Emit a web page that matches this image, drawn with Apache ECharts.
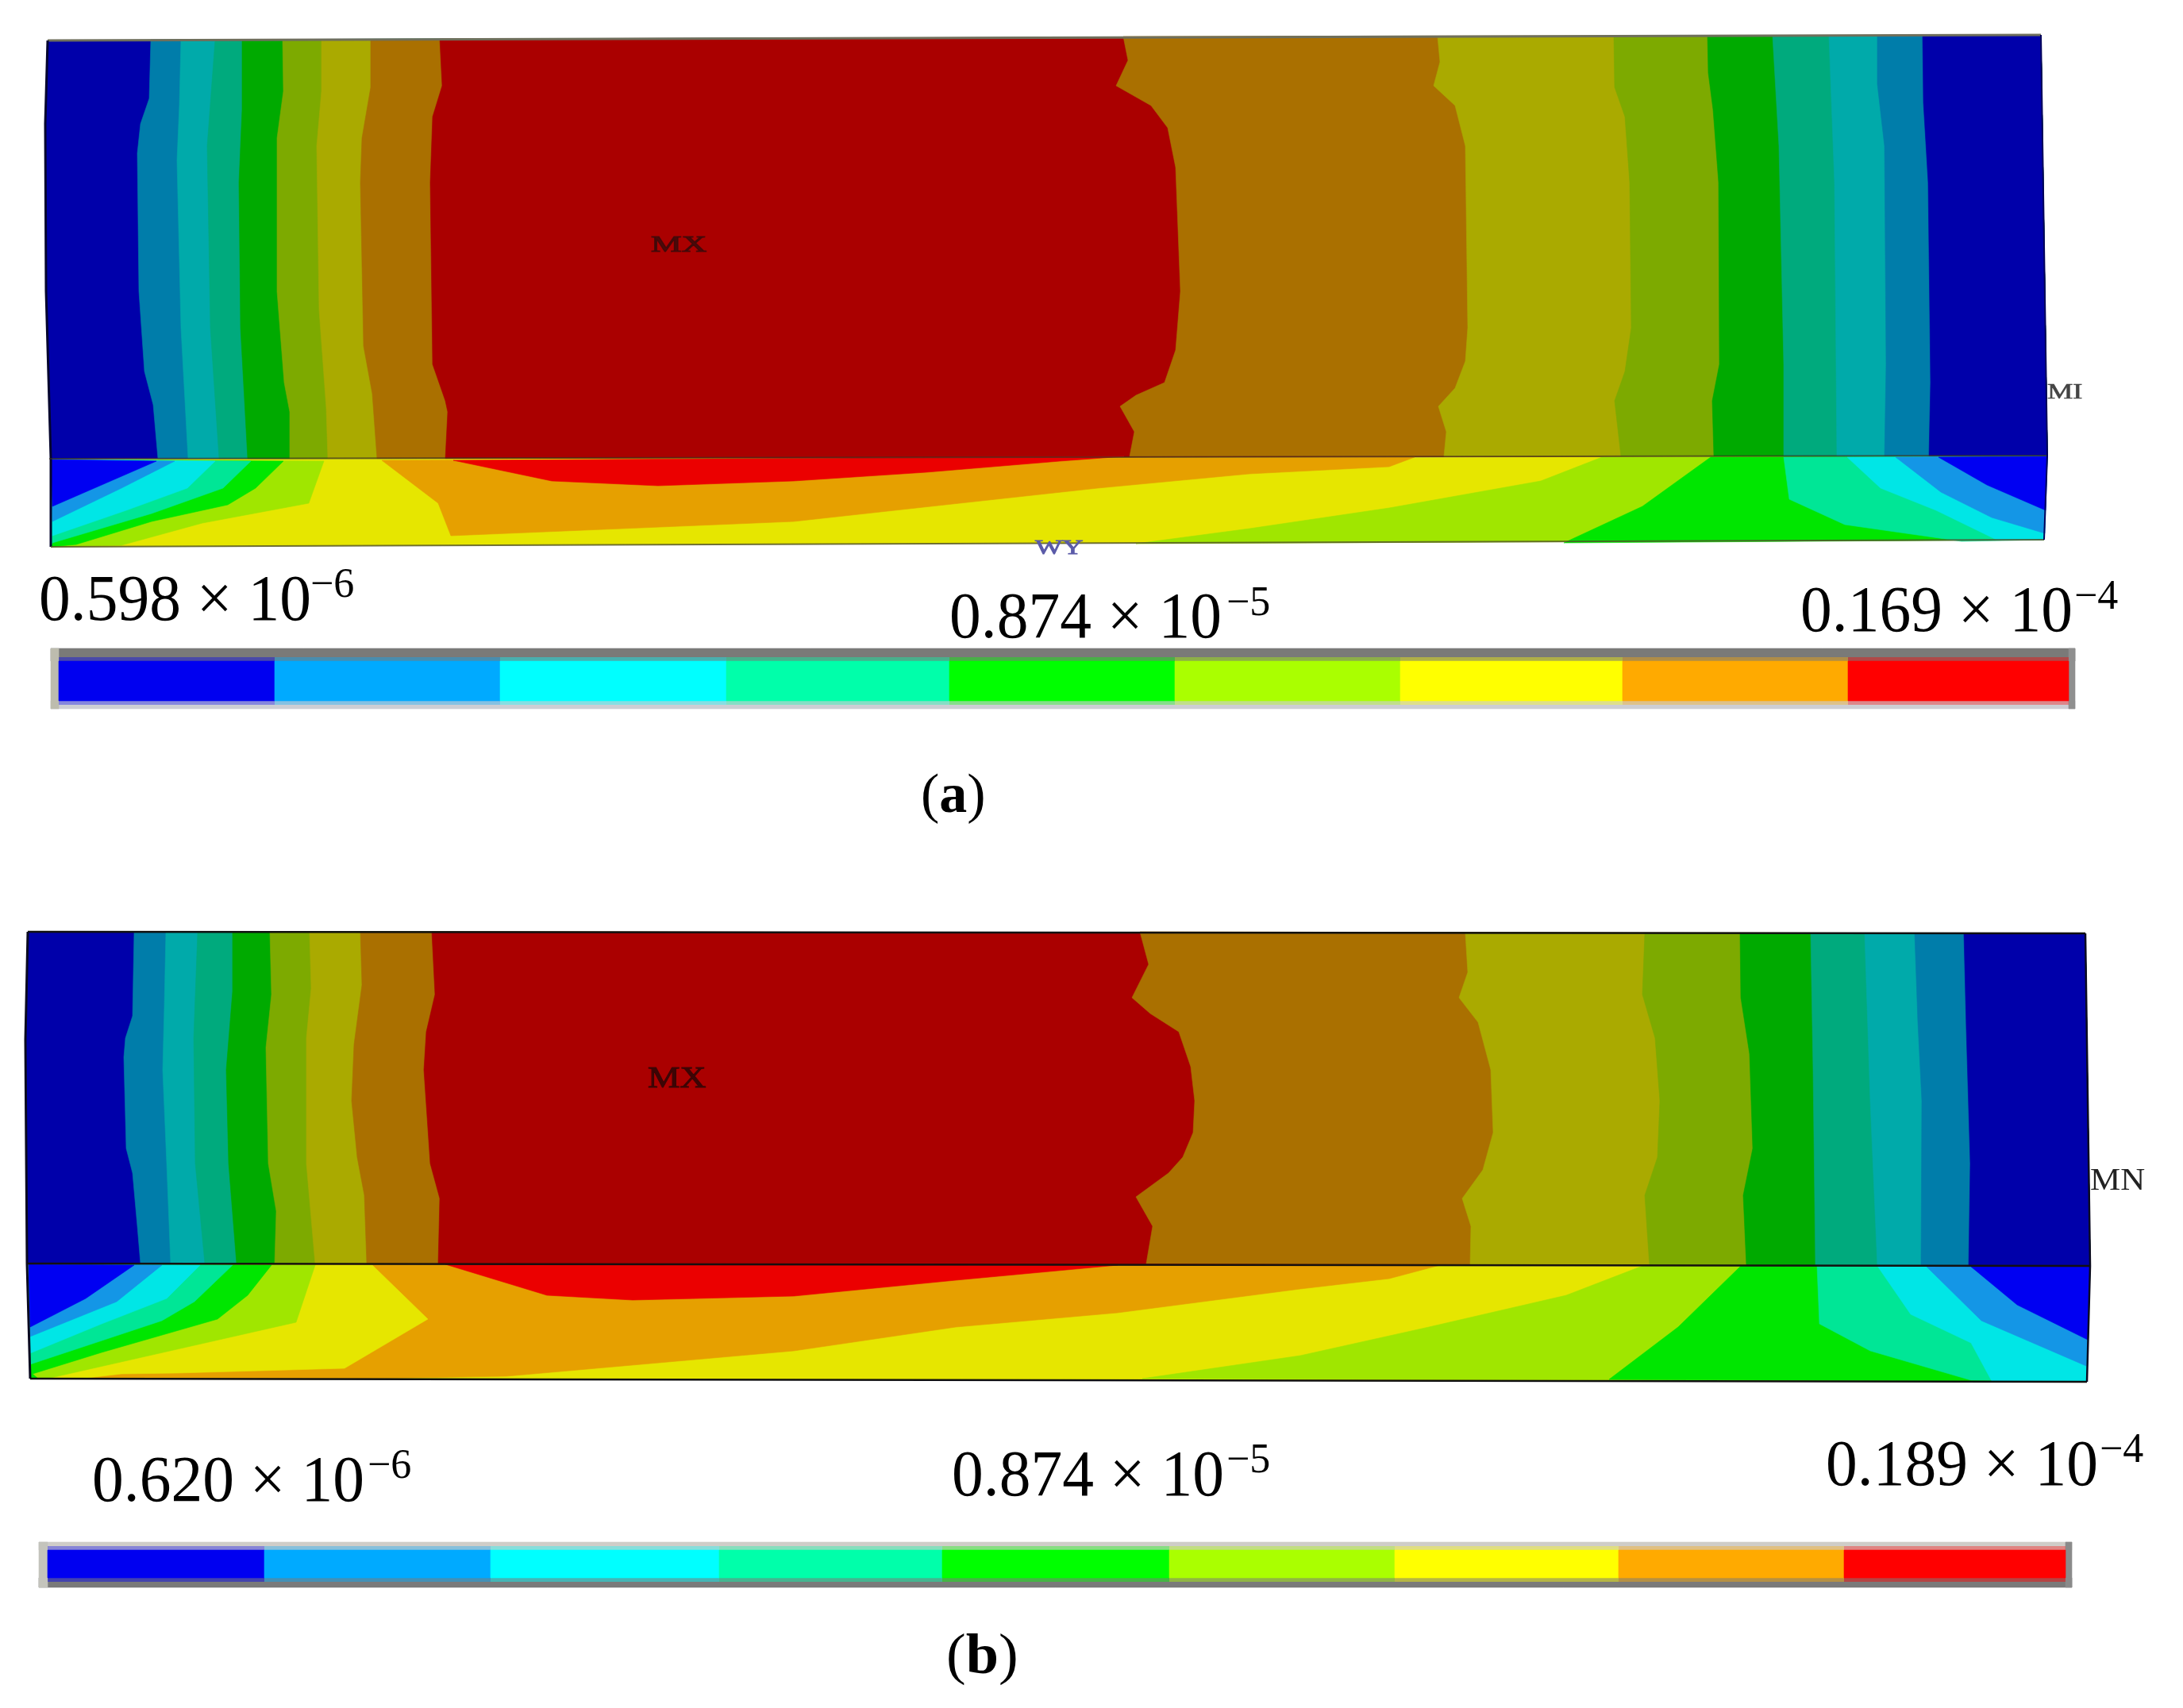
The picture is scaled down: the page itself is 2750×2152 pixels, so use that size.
<!DOCTYPE html>
<html><head><meta charset="utf-8">
<style>html,body{margin:0;padding:0;background:#fff}#c{width:2750px;height:2152px}</style>
<script src="https://cdn.jsdelivr.net/npm/echarts@6/dist/echarts.min.js"></script>
</head><body><div id="c"></div>
<script>
// ---- contour level colours (index = contour level 0..8)
const dimColors=['#0000AA','#007DAA','#00AAAA','#00AA7D','#00AA00','#7DAA00','#AAAA00','#AA7000','#AA0000'];
const brightColors=['#0000F2','#1496E6','#00E6E6','#00E696','#00E600','#A0E600','#E6E600','#E6A000','#EB0000'];
const legendColors=['#0000F0','#00AAFF','#00FFFF','#00FFAA','#00FF00','#AAFF00','#FFFF00','#FFAA00','#FF0000'];
// levels of the bands on the upper face, left to right
const topBandLevels=[0,1,2,3,4,5,6,7,8,7,6,5,4,3,2,1,0];

// ---- panel (a): upper face
const aTopOutline=[[60,51],[57,156],[58,367],[64,578],[2579,574],[2571,44]];
const aTopBounds=[
 [[190,50],[188,124],[177,156],[173,193],[175,367],[182,468],[193,510],[199,578]],
 [[228,50],[226,133],[223,202],[228,413],[233,505],[237,578]],
 [[271,50],[261,184],[265,413],[276,578]],
 [[305,50],[305,138],[301,230],[303,413],[312,578]],
 [[356,50],[357,115],[349,174],[349,367],[358,482],[365,519],[365,578]],
 [[405,50],[405,115],[399,184],[402,390],[411,514],[413,578]],
 [[467,50],[467,110],[456,174],[454,230],[458,436],[469,496],[475,578]],
 [[554,49],[557,108],[545,147],[542,230],[545,459],[561,505],[564,519],[561,578]],
 [[1415,46],[1421,76],[1406,108],[1450,133],[1471,161],[1481,211],[1487,367],[1481,441],[1467,482],[1431,498],[1411,512],[1429,544],[1423,575]],
 [[1811,46],[1814,78],[1806,108],[1833,133],[1846,184],[1849,413],[1846,455],[1833,489],[1812,512],[1822,544],[1819,575]],
 [[2033,46],[2034,110],[2047,147],[2053,230],[2055,413],[2047,468],[2034,505],[2042,575]],
 [[2151,45],[2152,92],[2158,138],[2165,230],[2166,459],[2157,505],[2159,575]],
 [[2233,45],[2241,184],[2247,459],[2247,575]],
 [[2304,45],[2311,230],[2314,575]],
 [[2365,45],[2365,106],[2374,184],[2376,459],[2374,575]],
 [[2422,45],[2423,129],[2429,230],[2432,482],[2430,575]]
];
// ---- panel (a): lower face, [level, polygon] in paint order
const aLowOutline=[[64,579],[64,689],[2575,680],[2579,575]];
const aLowBaseLevel=6;
const aLowRegions=[
 [5,[[64,579],[408,581],[389,634],[255,659],[153,687],[64,689]]],
 [4,[[64,579],[357,581],[322,615],[287,636],[191,657],[96,686],[64,689]]],
 [3,[[64,579],[316,581],[281,615],[191,647],[66,684],[64,689]]],
 [2,[[64,579],[271,581],[236,615],[159,643],[66,675]]],
 [1,[[64,579],[220,581],[153,615],[66,657]]],
 [0,[[64,579],[197,581],[66,638]]],
 [7,[[481,580],[552,634],[568,675],[1000,657],[1191,636],[1383,615],[1574,597],[1750,588],[1782,576]]],
 [8,[[571,580],[695,606],[829,612],[1000,606],[1167,595],[1335,581],[1416,575]]],
 [5,[[1431,685],[1574,666],[1750,640],[1941,606],[2018,576],[2579,575],[2575,680]]],
 [4,[[1970,684],[2069,638],[2155,576],[2579,575],[2575,680]]],
 [3,[[2247,576],[2254,629],[2324,661],[2471,682],[2575,680],[2579,575]]],
 [2,[[2327,576],[2369,615],[2439,643],[2515,680],[2575,680],[2579,575]]],
 [1,[[2388,576],[2445,620],[2509,652],[2576,672],[2579,575]]],
 [0,[[2442,576],[2503,611],[2577,643],[2579,575]]]
];

// ---- panel (b): upper face
const bTopOutline=[[35,1174],[32,1310],[34,1592],[2633,1595],[2627,1176]];
const bTopBounds=[
 [[169,1174],[167,1280],[158,1308],[156,1332],[159,1447],[167,1478],[173,1545],[177,1592]],
 [[209,1174],[207,1269],[205,1348],[210,1466],[215,1592]],
 [[249,1174],[244,1308],[246,1466],[258,1592]],
 [[293,1174],[293,1249],[285,1348],[288,1466],[298,1592]],
 [[340,1174],[342,1253],[335,1320],[338,1466],[348,1526],[346,1592]],
 [[390,1174],[392,1245],[386,1308],[386,1466],[397,1592]],
 [[454,1174],[456,1241],[446,1316],[443,1387],[450,1458],[459,1506],[462,1592]],
 [[544,1174],[548,1253],[537,1300],[534,1348],[542,1466],[554,1510],[552,1592]],
 [[1436,1174],[1447,1215],[1426,1257],[1449,1277],[1485,1300],[1500,1344],[1505,1387],[1503,1427],[1490,1458],[1472,1478],[1431,1508],[1452,1545],[1444,1592]],
 [[1846,1176],[1849,1225],[1838,1257],[1862,1288],[1878,1348],[1881,1427],[1868,1474],[1842,1510],[1853,1545],[1852,1593]],
 [[2072,1176],[2069,1253],[2085,1308],[2091,1387],[2088,1458],[2072,1506],[2078,1595]],
 [[2192,1176],[2193,1257],[2204,1328],[2208,1447],[2196,1506],[2200,1595]],
 [[2281,1176],[2284,1348],[2287,1595]],
 [[2349,1176],[2356,1387],[2365,1595]],
 [[2412,1176],[2416,1288],[2421,1387],[2420,1595]],
 [[2474,1176],[2477,1296],[2482,1466],[2480,1595]]
];
// ---- panel (b): lower face
const bLowOutline=[[36,1593],[38,1737],[2629,1741],[2633,1596]];
const bLowBaseLevel=6;
const bLowRegions=[
 [7,[[36,1593],[2020,1594],[1814,1594],[1750,1611],[1638,1624],[1408,1654],[1204,1672],[1000,1702],[638,1734],[400,1738],[38,1737]]],
 [6,[[36,1593],[469,1594],[539,1662],[434,1724],[223,1730],[153,1731],[102,1737],[38,1737]]],
 [5,[[36,1593],[397,1594],[373,1666],[223,1700],[64,1736],[38,1737]]],
 [4,[[36,1593],[342,1594],[312,1632],[274,1662],[128,1704],[41,1731],[48,1737],[38,1737]]],
 [3,[[36,1593],[293,1594],[245,1640],[204,1664],[38,1719]]],
 [2,[[36,1593],[252,1594],[210,1636],[128,1668],[38,1705]]],
 [1,[[36,1593],[204,1594],[147,1640],[38,1684]]],
 [0,[[36,1593],[169,1594],[108,1636],[38,1672]]],
 [8,[[561,1593],[689,1632],[797,1638],[1000,1633],[1204,1613],[1408,1594]]],
 [5,[[1439,1737],[1638,1708],[1800,1672],[1973,1632],[2069,1595],[2633,1596],[2629,1741]]],
 [4,[[2027,1738],[2114,1672],[2193,1595],[2633,1596],[2629,1741]]],
 [3,[[2289,1595],[2292,1668],[2356,1702],[2483,1739],[2629,1741],[2633,1596]]],
 [2,[[2365,1595],[2407,1656],[2483,1692],[2509,1740],[2629,1741],[2633,1596]]],
 [1,[[2426,1595],[2496,1664],[2628,1721],[2633,1596]]],
 [0,[[2483,1596],[2541,1644],[2630,1688],[2633,1596]]]
];

// ---- colour bars: cell edges along x
const aBarStops=[74,346,630,915,1196,1480,1764,2044,2328,2606];
const bBarStops=[60,333,618,906,1187,1473,1757,2039,2323,2602];

// ---- text
const valueLabels=['0.598 × 10','0.874 × 10','0.169 × 10','0.620 × 10','0.874 × 10','0.189 × 10'];
const valueExponents=['−6','−5','−4','−6','−5','−4'];
const panelMarks=['MX','MX','MN'];

// ---- layout, kept apart from the values above
const labelPos=[[49,783],[1196,805],[2268,797],[116,1893],[1199,1886],[2300,1873]];
const expPos=[[391,753],[1545,776],[2613,768],[463,1863],[1545,1856],[2645,1843]];
const aBar={x0:64,x1:2614,top:817,cellTop:833,cellBot:883,bot:893,inL:74,inR:2606,c:['#7a7a78','#cdced4','#bdbcae','#8f8f8f']};
const bBar={x0:49,x1:2610,top:1943,cellTop:1953,cellBot:1988,bot:2000,inL:60,inR:2602,c:['#cfcdc8','#7a7a7a','#c4c4bc','#8a8a8a']};

const polys=[];
function add(pts,fill,opacity){polys.push({pts,fill,opacity:opacity==null?1:opacity});}
function topFace(outline,bounds){
  add(outline,dimColors[topBandLevels[0]]);
  const tr=outline[outline.length-1],br=outline[outline.length-2];
  bounds.forEach((b,i)=>add(b.concat([br,tr]),dimColors[topBandLevels[i+1]]));
}
function lowFace(outline,base,regions){
  add(outline,brightColors[base]);
  regions.forEach(r=>add(r[1],brightColors[r[0]]));
}
function rect(x0,y0,x1,y1,f,o){add([[x0,y0],[x1,y0],[x1,y1],[x0,y1]],f,o);}
function bar(B,stops,tintTop,tintBot){
  rect(B.x0,B.top,B.x1,B.cellTop,B.c[0]);
  rect(B.x0,B.cellBot,B.x1,B.bot,B.c[1]);
  rect(B.x0,B.top,B.inL,B.bot,B.c[2]);
  rect(B.inR,B.top,B.x1,B.bot,B.c[3]);
  legendColors.forEach((c,i)=>{
    rect(stops[i],B.cellTop,stops[i+1],B.cellBot,c);
    rect(stops[i],B.cellTop-5,stops[i+1],B.cellTop,c,tintTop);
    rect(stops[i],B.cellBot,stops[i+1],B.cellBot+5,c,tintBot);
  });
}
topFace(aTopOutline,aTopBounds);lowFace(aLowOutline,aLowBaseLevel,aLowRegions);
topFace(bTopOutline,bTopBounds);lowFace(bLowOutline,bLowBaseLevel,bLowRegions);
bar(aBar,aBarStops,0.4,0.35);bar(bBar,bBarStops,0.35,0.45);

const lines=[
 {pts:[[60,51],[2571,44]],c:'#6f6f5c',w:3,o:1},
 {pts:[[60,51],[57,156],[58,367],[64,578],[64,689]],c:'#05052e',w:3,o:1},
 {pts:[[62,578],[2579,574]],c:'#3a3020',w:2,o:.65},
 {pts:[[64,689],[2575,680]],c:'#50502a',w:2,o:.8},
 {pts:[[2571,44],[2579,574],[2575,680]],c:'#00005a',w:2,o:1},
 {pts:[[35,1174],[2627,1176]],c:'#101010',w:2.5,o:1},
 {pts:[[35,1174],[32,1310],[34,1592],[38,1737]],c:'#0a0a20',w:3,o:1},
 {pts:[[35,1592],[2633,1595]],c:'#151010',w:2.5,o:1},
 {pts:[[38,1737],[2629,1741]],c:'#101010',w:2.5,o:1},
 {pts:[[2627,1176],[2633,1595],[2629,1741]],c:'#0a0a20',w:2.5,o:1}
];

const SERIF='"Liberation Serif","DejaVu Serif",serif';
const texts=[];
valueLabels.forEach((t,i)=>texts.push({t,x:labelPos[i][0],y:labelPos[i][1],fs:82,sx:.97,fill:'#000'}));
valueExponents.forEach((t,i)=>texts.push({t,x:expPos[i][0],y:expPos[i][1],fs:52,sx:1,fill:'#000'}));
texts.push({t:panelMarks[0],x:820,y:318,fs:30,sx:1.45,fill:'#3c0a0a',o:.85,sw:1.2});
texts.push({t:panelMarks[1],x:816,y:1371,fs:38,sx:1.2,fill:'#3c0505',sw:1});
texts.push({t:panelMarks[2],x:2633,y:1500,fs:39,sx:1.1,fill:'#222'});
texts.push({t:'MI',x:2579,y:503,fs:28,sx:1.3,fill:'#444',sw:.6});
texts.push({t:'WY',x:1304,y:699,fs:26,sx:1.4,fill:'#5a5aa8',sw:.8});
texts.push({t:'{r|(}{b|a}{r|)}',rich:true,x:1160,y:1025,fs:70,sx:1,fill:'#000'});
texts.push({t:'{r|(}{b|b}{r|)}',rich:true,x:1192,y:2110,fs:72,sx:1.03,fill:'#000'});

const chart=echarts.init(document.getElementById('c'),null,{renderer:'canvas'});
const co=(api,p)=>api.coord(p);
chart.setOption({
  animation:false,backgroundColor:'#fff',tooltip:{show:false},
  grid:{left:0,right:0,top:0,bottom:0,containLabel:false},
  xAxis:{type:'value',min:0,max:2750,show:false},
  yAxis:{type:'value',min:0,max:2152,inverse:true,show:false},
  series:[
   {type:'custom',coordinateSystem:'cartesian2d',clip:false,silent:true,z:2,
    data:polys.map((p,i)=>[p.pts[0][0],p.pts[0][1],i]),encode:{x:0,y:1},
    renderItem:(params,api)=>{const p=polys[api.value(2)];
      return {type:'polygon',shape:{points:p.pts.map(q=>co(api,q))},
        style:{fill:p.fill,opacity:p.opacity,stroke:p.opacity===1?p.fill:null,lineWidth:p.opacity===1?.6:0}};}},
   {type:'custom',coordinateSystem:'cartesian2d',clip:false,silent:true,z:3,
    data:lines.map((p,i)=>[p.pts[0][0],p.pts[0][1],i]),encode:{x:0,y:1},
    renderItem:(params,api)=>{const p=lines[api.value(2)];
      return {type:'polyline',shape:{points:p.pts.map(q=>co(api,q))},
        style:{fill:null,stroke:p.c,lineWidth:p.w,opacity:p.o}};}},
   {type:'custom',coordinateSystem:'cartesian2d',clip:false,silent:true,z:4,
    data:texts.map((t,i)=>[t.x,t.y,i]),encode:{x:0,y:1},
    renderItem:(params,api)=>{const t=texts[api.value(2)];const c=co(api,[t.x,t.y]);
      const style={text:t.t,fontFamily:SERIF,fontSize:t.fs,fill:t.fill,align:'left',verticalAlign:'middle',opacity:t.o==null?1:t.o};
      if(t.sw){style.stroke=t.fill;style.lineWidth=t.sw;}
      if(t.rich){style.rich={r:{fontFamily:SERIF,fontSize:t.fs,fill:t.fill},b:{fontFamily:SERIF,fontSize:t.fs,fontWeight:'bold',fill:t.fill}};}
      return {type:'text',x:c[0],y:c[1]-t.fs*0.29,scaleX:t.sx,style};}}
  ]
});
</script></body></html>
